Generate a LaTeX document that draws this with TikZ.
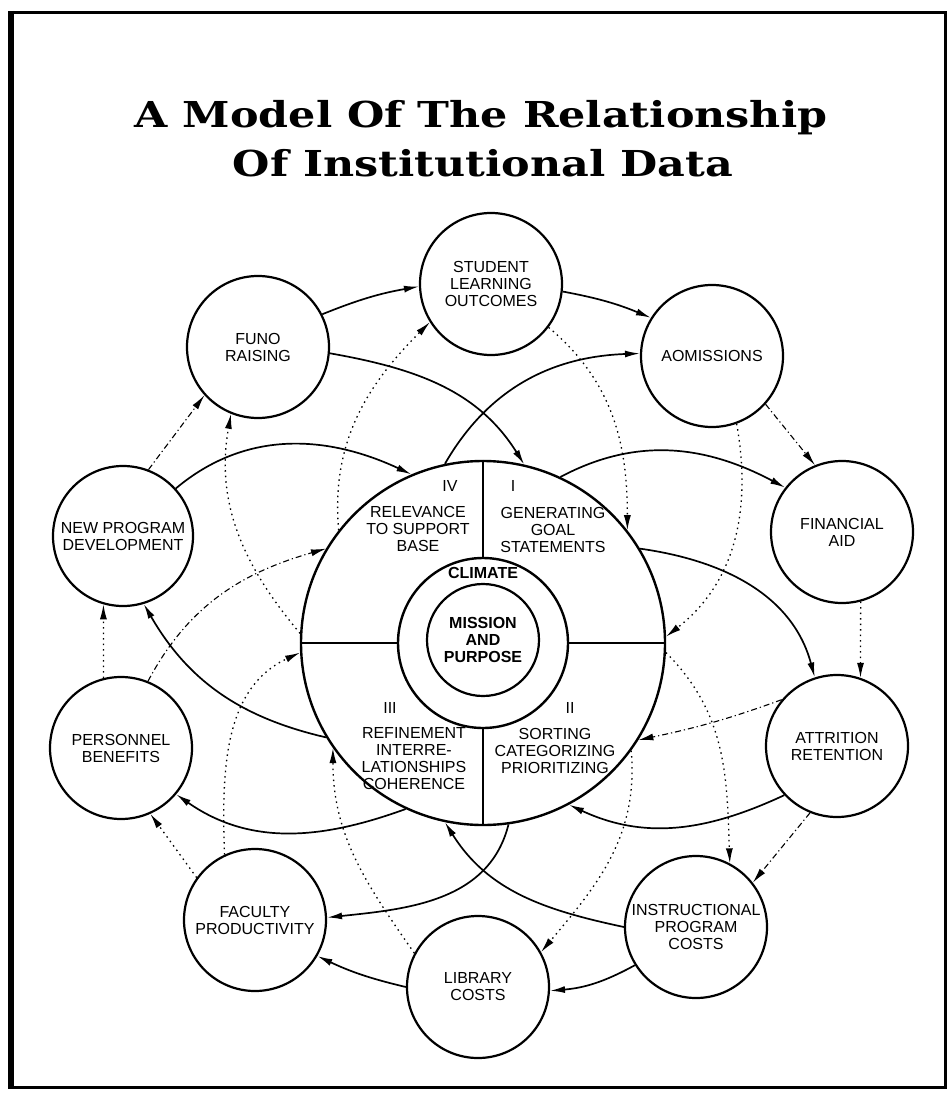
\documentclass[tikz,border=0pt]{standalone}
\usepackage{fontspec}
\usetikzlibrary{arrows.meta,positioning}
\newfontfamily\titlefont{DejaVu Serif}
\newfontfamily\boxfont{Liberation Sans}
\newcommand{\boxsize}{\fontsize{16}{17}\selectfont}
\tikzset{
  unit/.style={circle,draw,line width=2.2pt,minimum size=142pt,inner sep=0pt,align=center,font=\boxfont\boxsize},
  ring/.style={circle,draw,line width=2.4pt,inner sep=0pt},
  phase/.style={align=center,inner sep=0pt,font=\boxfont\boxsize},
  heading/.style={anchor=base,inner sep=0pt,font=\titlefont\bfseries\fontsize{35.7}{40}\selectfont},
  flow/.style={line width=1.7pt,-{Latex[length=15pt,width=7pt]}},
  dashflow/.style={line width=1.1pt,dash pattern=on 6pt off 3pt on 1.2pt off 3pt,-{Latex[length=15pt,width=7pt]}},
  dotflow/.style={line width=1.3pt,dash pattern=on 1.5pt off 4pt,-{Latex[length=15pt,width=7pt]}}
}
\begin{document}
\begin{tikzpicture}[x=1pt,y=1pt]
\useasboundingbox (0,0) rectangle (950,-1094);
\draw[line width=3pt] (11,-13) rectangle (945,-1087);
\draw[line width=6pt] (11,-11) -- (11,-1089);

\node[heading] (title) at (481,-128) {\scalebox{1.2}[1]{A Model Of The Relationship}};
\node[heading] (subtitle) at (483,-177) {\scalebox{1.2}[1]{Of Institutional Data}};

\node[ring,minimum size=364pt] (core) at (483,-643) {};
\node[ring,minimum size=170pt] (climate) at (483,-643) {};
\node[ring,minimum size=112pt,line width=2.2pt] (mission) at (483,-640) {};
\draw[line width=1.8pt] (core.north) -- (climate.north);
\draw[line width=1.8pt] (climate.south) -- (core.south);
\draw[line width=2.8pt] (core.west) -- (climate.west);
\draw[line width=2.8pt] (climate.east) -- (core.east);
\node[phase,font=\boxfont\bfseries\boxsize] (climatetext) at (483,-573) {CLIMATE};
\node[phase,font=\boxfont\bfseries\boxsize] (purpose) at (483,-640) {MISSION\\AND\\PURPOSE};
\node[phase] (q4) at (450,-486) {IV};
\node[phase] (q1) at (513,-486) {I};
\node[phase] (q3) at (390,-708) {III};
\node[phase] (q2) at (570,-708) {II};
\node[phase] (support) at (418,-529) {RELEVANCE\\TO SUPPORT\\BASE};
\node[phase] (goals) at (553,-530) {GENERATING\\GOAL\\STATEMENTS};
\node[phase] (refine) at (414,-759) {REFINEMENT\\INTERRE-\\LATIONSHIPS\\COHERENCE};
\node[phase] (sorting) at (555,-751) {SORTING\\CATEGORIZING\\PRIORITIZING};

\node[unit] (slo) at (491,-284) {STUDENT\\LEARNING\\OUTCOMES};
\node[unit] (fund) at (258,-347) {FUNO\\RAISING};
\node[unit] (adm) at (712,-356) {AOMISSIONS};
\node[unit,minimum size=140pt] (newp) at (123,-536) {NEW PROGRAM\\DEVELOPMENT};
\node[unit] (fin) at (842,-532) {FINANCIAL\\AID};
\node[unit] (pers) at (121,-748) {PERSONNEL\\BENEFITS};
\node[unit] (attr) at (837,-746) {ATTRITION\\RETENTION};
\node[unit] (fac) at (255,-920) {FACULTY\\PRODUCTIVITY};
\node[unit] (instr) at (696,-927) {INSTRUCTIONAL\\PROGRAM\\COSTS};
\node[unit] (lib) at (478,-987) {LIBRARY\\COSTS};

\draw[flow] (fund.27) to[bend left=6] (slo.182);
\draw[flow] (slo.354) to[bend left=6] (adm.148);
\draw[dashflow] (adm.-42) -- (fin.112);
\draw[dotflow] (fin.-75) -- (attr.71);
\draw[dashflow] (attr.-112) -- (instr.38);
\draw[flow] (instr.212) to[bend left=12] (lib.-3);
\draw[flow] (lib.180) to[bend left=6] (fac.-30);
\draw[dotflow] (fac.144) -- (pers.-66);
\draw[dotflow] (pers.104) -- (newp.-106);
\draw[dashflow] (newp.69) -- (fund.222);

\draw[dotflow] (core.177) to[out=130,in=260] (fund.248);
\draw[flow] (newp.42) to[out=40,in=155] (core.113);
\draw[flow] (fund.-5) to[out=-10,in=122] (core.77);
\draw[flow] (core.102) to[out=60,in=182] (adm.178);
\draw[flow] (core.65) to[out=28,in=152] (fin.142);
\draw[dotflow] (slo.-37) to[out=-40,in=90] (core.38);
\draw[dotflow] (core.142) to[out=95,in=225] (slo.212);
\draw[dotflow] (adm.-70) to[out=-80,in=38] (core.2);
\draw[dotflow] (core.-3) to[out=-45,in=92] (instr.62);
\draw[flow] (core.31) to[out=-8,in=105] (attr.108);
\draw[dashflow] (attr.140) to[out=200,in=12] (core.-32);
\draw[flow] (attr.223) to[out=205,in=-25] (core.-62);
\draw[dotflow] (core.-36) to[out=-85,in=50] (lib.29);
\draw[flow] (instr.180) to[out=168,in=-58] (core.-102);
\draw[flow] (core.-82) to[out=-104,in=6] (fac.2);
\draw[dotflow] (lib.152) to[out=125,in=270] (core.-145);
\draw[flow] (core.-115) to[out=200,in=-35] (pers.-40);
\draw[flow] (core.211) to[out=167,in=-60] (newp.-73);
\draw[dashflow] (pers.68) to[out=62,in=196] (core.149);
\draw[dotflow] (fac.115) to[out=92,in=205] (core.183);
\end{tikzpicture}
\end{document}
